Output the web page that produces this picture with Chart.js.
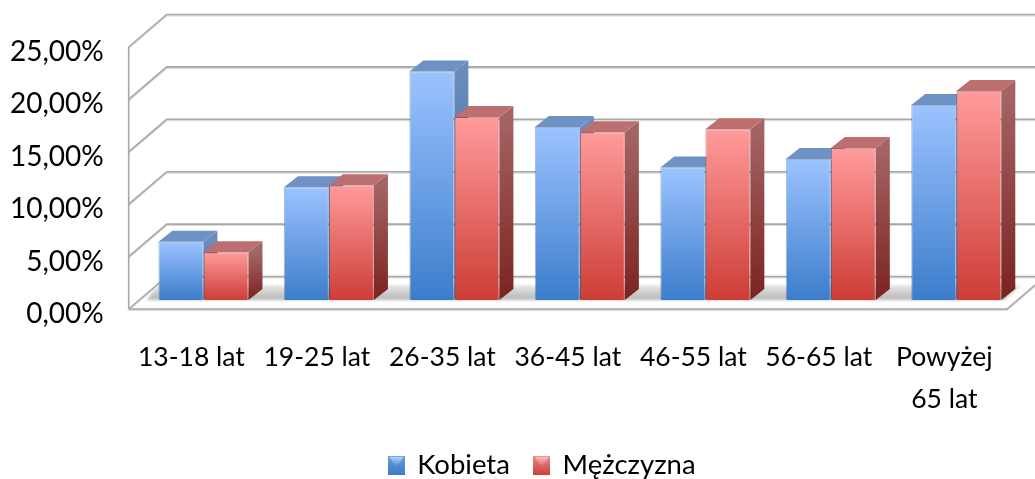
<!DOCTYPE html>
<html><head><meta charset="utf-8">
<style>html,body{margin:0;padding:0;background:#fff}canvas{display:block}</style>
<script src="https://cdn.jsdelivr.net/npm/chart.js@4"></script>
</head><body><canvas id="c" width="1035" height="479"></canvas>
<script>
const categories = ['13-18 lat','19-25 lat','26-35 lat','36-45 lat','46-55 lat','56-65 lat',['Powyżej','65 lat']];
const kobieta = [5.55,10.75,21.8,16.5,12.65,13.45,18.6];
const mezczyzna = [4.55,10.95,17.45,16.0,16.3,14.5,19.95];
const yTicks = ['0,00%','5,00%','10,00%','15,00%','20,00%','25,00%'];
const seriesNames = ['Kobieta','Mężczyzna'];

const FONT = 'Lato';
const DEPTH = {x:38,y:-32.5}, BAR_OFF = {x:12,y:-9}, BAR_D = {x:14,y:-11};
const LEGEND_SHIFT = {x:39,y:10};
const PALETTE = [
  {top:'#9cc3ff',bot:'#3c7dcb',sideT:'#6a8dbd',sideB:'#2c5f9c',cap:'#6e92c4',edge:'rgba(50,90,150,.45)'},
  {top:'#ff9b9b',bot:'#cd3d36',sideT:'#a56464',sideB:'#7a2320',cap:'#bd6f6f',edge:'rgba(150,50,50,.45)'}
];
function marker(i){
  const c=document.createElement('canvas');c.width=17;c.height=19;
  const x=c.getContext('2d');
  const g=x.createLinearGradient(0,0,0,19);
  g.addColorStop(0,i?'#e98a88':'#6a9bdc');g.addColorStop(1,i?'#c9433e':'#3c7dcb');
  x.fillStyle=g;x.fillRect(0,0,17,19);
  const h=x.createLinearGradient(0,0,0,11);
  h.addColorStop(0,i?'#ffc4c4':'#c0dcff');h.addColorStop(1,i?'rgba(255,170,170,0)':'rgba(160,200,255,0)');
  x.fillStyle=h;x.beginPath();x.moveTo(1,1);x.lineTo(16,1);x.lineTo(8.5,11);x.closePath();x.fill();
  return c;
}
const markers=[marker(0),marker(1)];

function frontFill(i){
  return ctx=>{
    const chart=ctx.chart;
    if(ctx.parsed===undefined||ctx.parsed.y===undefined||!chart.scales.y) return PALETTE[i].bot;
    const y=chart.scales.y;
    const g=chart.ctx.createLinearGradient(0,y.getPixelForValue(ctx.parsed.y),0,y.getPixelForValue(0));
    g.addColorStop(0,PALETTE[i].top);g.addColorStop(1,PALETTE[i].bot);
    return g;
  };
}

const scene3d={
  id:'scene3d',
  afterLayout(chart){
    const l=chart.legend;
    l.left+=LEGEND_SHIFT.x;l.right+=LEGEND_SHIFT.x;l.top+=LEGEND_SHIFT.y;l.bottom+=LEGEND_SHIFT.y;
  },
  beforeDatasetsDraw(chart){
    const c=chart.ctx,ys=chart.scales.y,a=chart.chartArea;
    c.save();
    // floor shadow
    const y0=ys.getPixelForValue(0);
    const sh=c.createLinearGradient(0,y0+BAR_OFF.y,0,y0+BAR_OFF.y+BAR_D.y-4);
    sh.addColorStop(0,'#b4b4b4');sh.addColorStop(1,'#e9e9e9');
    c.filter='blur(1.5px)';
    c.fillStyle=sh;c.beginPath();
    c.moveTo(a.left+18,y0+BAR_OFF.y);c.lineTo(a.left+29,y0+BAR_OFF.y+BAR_D.y-4);
    c.lineTo(a.right+15,y0+BAR_OFF.y+BAR_D.y-4);c.lineTo(a.right-3,y0+BAR_OFF.y);c.closePath();c.fill();
    c.filter='none';
    // walls
    const line=(pts,col,w)=>{c.strokeStyle=col;c.lineWidth=w;c.beginPath();pts.forEach((p,i)=>i?c.lineTo(p[0],p[1]):c.moveTo(p[0],p[1]));c.stroke();};
    yTicks.forEach((_,i)=>{
      const v=i*5,p=ys.getPixelForValue(v);
      const pts=[[a.left,p],[a.left+DEPTH.x,p+DEPTH.y],[1040,p+DEPTH.y]];
      line(pts.map(q=>[q[0],q[1]+1]),'#dcdcdc',2);
      line(pts,'#a8a8a8',1.6);
    });
    line([[a.left,a.top],[a.left,a.bottom]],'#a8a8a8',1.6);
    const fr=[[a.left,a.bottom],[a.right,a.bottom],[a.right+DEPTH.x,a.bottom+DEPTH.y]];
    line(fr.map(q=>[q[0],q[1]+1]),'#dcdcdc',2);
    line(fr,'#a8a8a8',1.6);
    // extruded faces, first series first
    c.translate(BAR_OFF.x,BAR_OFF.y);
    [0,1].forEach(ds=>{
      const P=PALETTE[ds];
      chart.getDatasetMeta(ds).data.forEach(el=>{
        const p=el.getProps(['x','y','base','width'],true);
        const l=p.x-p.width/2,r=p.x+p.width/2,t=p.y,b=p.base;
        const g=c.createLinearGradient(0,t,0,b);
        g.addColorStop(0,P.sideT);g.addColorStop(1,P.sideB);
        c.fillStyle=g;c.beginPath();
        c.moveTo(r,t);c.lineTo(r+BAR_D.x,t+BAR_D.y);c.lineTo(r+BAR_D.x,b+BAR_D.y);c.lineTo(r,b);c.closePath();c.fill();
        c.fillStyle=P.cap;c.beginPath();
        c.moveTo(l,t);c.lineTo(l+BAR_D.x,t+BAR_D.y);c.lineTo(r+BAR_D.x,t+BAR_D.y);c.lineTo(r,t);c.closePath();c.fill();
      });
    });
    c.restore();
    c.save();
    c.translate(BAR_OFF.x,BAR_OFF.y);
  },
  afterDatasetsDraw(chart){chart.ctx.restore();}
};

new Chart(document.getElementById('c'),{
  type:'bar',
  data:{labels:categories,datasets:[
    {label:seriesNames[0],data:kobieta,backgroundColor:frontFill(0),borderColor:PALETTE[0].edge,borderWidth:1,clip:false},
    {label:seriesNames[1],data:mezczyzna,backgroundColor:frontFill(1),borderColor:PALETTE[1].edge,borderWidth:1,clip:false}
  ]},
  options:{
    responsive:false,animation:false,
    layout:{padding:{top:47,right:28,left:0,bottom:0}},
    datasets:{bar:{categoryPercentage:0.7177,barPercentage:1}},
    scales:{
      x:{grid:{display:false},border:{display:false},
        ticks:{color:'#000',maxRotation:0,autoSkip:false,padding:19,font:{family:FONT,size:26.5,lineHeight:1.585}},
        afterFit(s){s.height=170-(s.chart.legend?s.chart.legend.height:0);}},
      y:{min:0,max:25,grid:{display:false},border:{display:false},
        ticks:{stepSize:5,color:'#000',padding:17,labelOffset:5,font:{family:FONT,size:28},
          callback:(v)=>yTicks[Math.round(v/5)]},
        afterFit(s){s.width=128.7;}}
    },
    plugins:{
      tooltip:{enabled:false},
      legend:{position:'bottom',labels:{
        color:'#000',usePointStyle:true,pointStyleWidth:14,padding:25,font:{family:FONT,size:27.5},
        generateLabels:chart=>chart.data.datasets.map((d,i)=>({text:d.label,datasetIndex:i,pointStyle:markers[i],fontColor:'#000',lineWidth:0,hidden:false}))
      }}
    }
  },
  plugins:[scene3d]
});
</script></body></html>
